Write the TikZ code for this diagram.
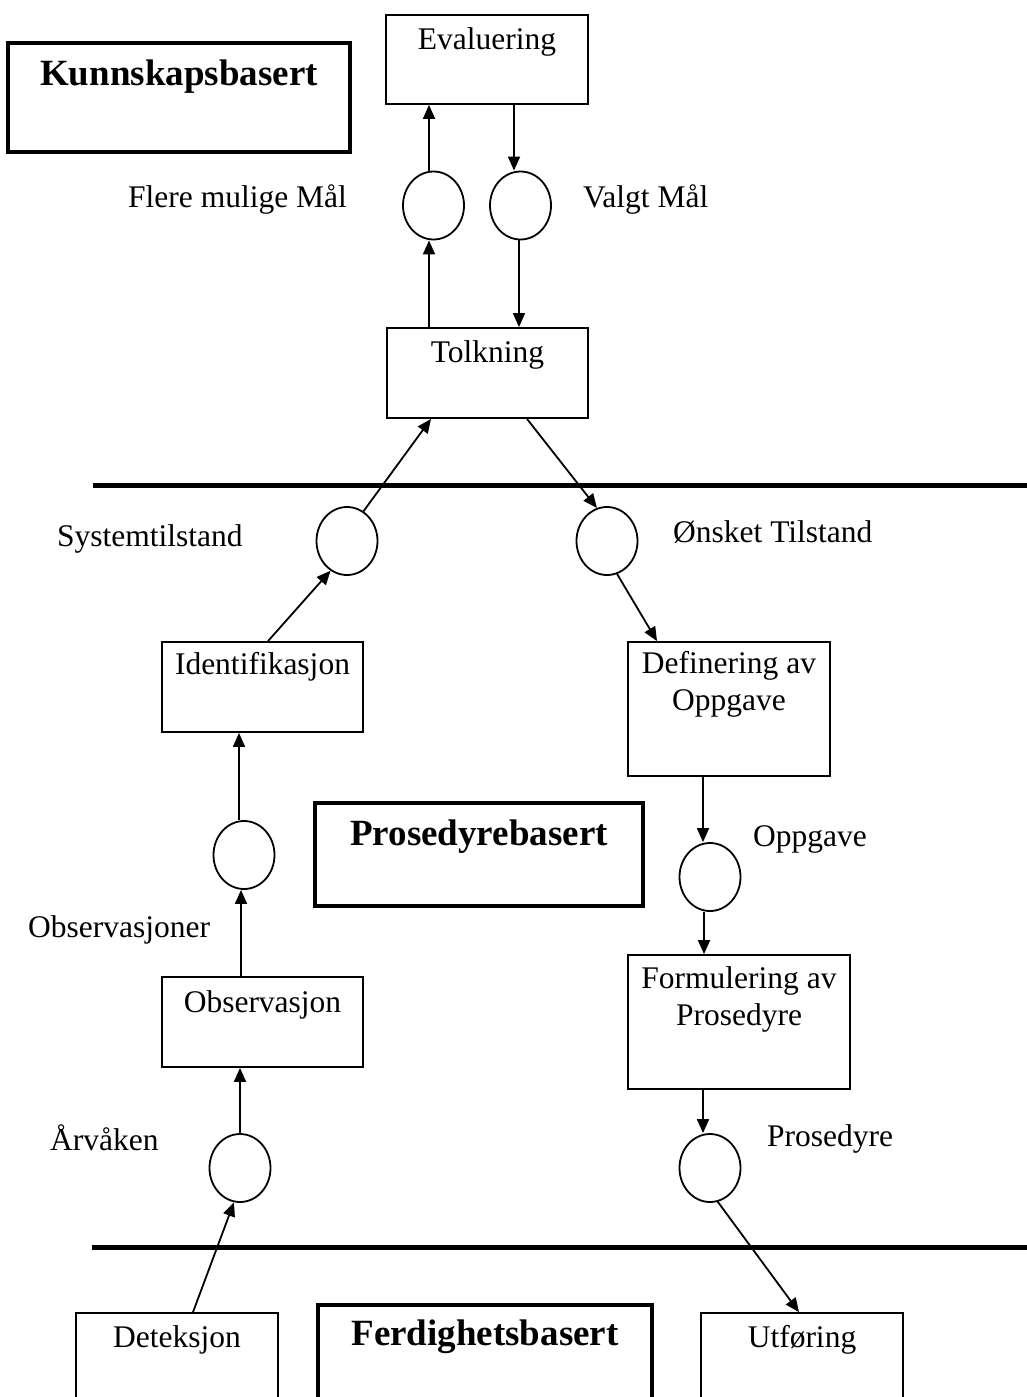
\documentclass[tikz,border=0pt]{standalone}
\usepackage{fontspec}
\setmainfont{Liberation Serif}
\usetikzlibrary{arrows.meta,shapes.geometric}

\tikzset{
  box/.style={draw, line width=1.8pt, rectangle, inner sep=0pt},
  levelbox/.style={draw, line width=4.5pt, rectangle, inner sep=0pt},
  state/.style={draw, line width=1.8pt, ellipse, inner sep=0pt,
                minimum width=61pt, minimum height=68pt},
  arr/.style={line width=1.8pt, -{Triangle[length=14pt,width=12pt]}},
  divider/.style={line width=5pt},
  lbl/.style={anchor=base west, inner sep=0pt},
  boxtext/.style={anchor=base, inner sep=0pt, align=center},
  leveltext/.style={anchor=base, inner sep=0pt, font=\fontsize{37}{44}\selectfont\bfseries}
}

\begin{document}
\begin{tikzpicture}[x=1pt, y=-1pt, font=\fontsize{31.5}{37}\selectfont]
\useasboundingbox (0,0) rectangle (1027,1397);

% level frames
\node[levelbox, minimum width=342pt, minimum height=109pt] (kunn) at (179,97.5) {};
\node[leveltext] (kunnt) at (179,85) {Kunnskapsbasert};
\node[levelbox, minimum width=328pt, minimum height=103pt] (pros) at (479,854.5) {};
\node[leveltext] (prost) at (479,845) {Prosedyrebasert};
\node[levelbox, minimum width=334pt, minimum height=94pt] (ferd) at (485,1352) {};
\node[leveltext] (ferdt) at (485,1345) {Ferdighetsbasert};

% level dividers
\coordinate (d1a) at (93,485);  \coordinate (d1b) at (1030,485);
\coordinate (d2a) at (92,1247); \coordinate (d2b) at (1030,1247);
\draw[divider] (d1a) -- (d1b);
\draw[divider] (d2a) -- (d2b);

% processing boxes
\node[box, minimum width=202pt, minimum height=89pt]  (eval)  at (487,59.5) {};
\node[boxtext] (evalt) at (487,50) {Evaluering};
\node[box, minimum width=201pt, minimum height=90pt]  (tolk)  at (487.5,373) {};
\node[boxtext] (tolkt) at (487.5,362) {Tolkning};
\node[box, minimum width=201pt, minimum height=90pt]  (ident) at (262.5,687) {};
\node[boxtext] (identt) at (262.5,674) {Identifikasjon};
\node[box, minimum width=201pt, minimum height=90pt]  (obs)   at (262.5,1022) {};
\node[boxtext] (obst) at (262.5,1012) {Observasjon};
\node[box, minimum width=202pt, minimum height=134pt] (def)   at (729,709) {};
\node[boxtext] (deft1) at (729,673) {Definering av};
\node[boxtext] (deft2) at (729,710) {Oppgave};
\node[box, minimum width=222pt, minimum height=134pt] (form)  at (739,1022) {};
\node[boxtext] (formt1) at (739,988) {Formulering av};
\node[boxtext] (formt2) at (739,1025) {Prosedyre};
\node[box, minimum width=202pt, minimum height=117pt] (det)   at (177,1371.5) {};
\node[boxtext] (dett) at (177,1347) {Deteksjon};
\node[box, minimum width=202pt, minimum height=117pt] (utf)   at (802,1371.5) {};
\node[boxtext] (utft) at (802,1347) {Utføring};

% states
\node[state] (c1) at (433.5,205.5) {};
\node[state] (c2) at (520.5,205.5) {};
\node[state] (c3) at (347,541) {};
\node[state] (c4) at (607,541) {};
\node[state] (c5) at (244,855) {};
\node[state] (c6) at (710,877) {};
\node[state] (c7) at (240,1168) {};
\node[state] (c8) at (710,1168) {};

% state labels
\node[lbl] (l1) at (128,207)  {Flere mulige Mål};
\node[lbl] (l2) at (583,207)  {Valgt Mål};
\node[lbl] (l3) at (57,546)   {Systemtilstand};
\node[lbl] (l4) at (673,542)  {Ønsket Tilstand};
\node[lbl] (l5) at (28,937)   {Observasjoner};
\node[lbl] (l6) at (753,846)  {Oppgave};
\node[lbl] (l7) at (50,1150)  {Årvåken};
\node[lbl] (l8) at (767,1146) {Prosedyre};

% top loop
\draw[arr] ([xshift=-4.5pt]c1.north) -- ([xshift=-4.5pt]c1.north |- eval.south);
\draw[arr] ([xshift=-6.5pt]c2.north |- eval.south) -- ([xshift=-6.5pt]c2.north);
\draw[arr] ([xshift=-4.5pt]c1.south |- tolk.north) -- ([xshift=-4.5pt]c1.south);
\draw[arr] ([xshift=-1.5pt]c2.south) -- ([xshift=-1.5pt]c2.south |- tolk.north);

% diagonal links around the upper divider
\draw[arr] (c3.61) -- ([xshift=-56.5pt]tolk.south);
\draw[arr] ([xshift=39.5pt]tolk.south) -- (c4.107);
\draw[arr] ([xshift=5.5pt]ident.north) -- (c3.241);
\draw[arr] (c4.-73) -- ([xshift=-72pt]def.north);

% left column
\draw[arr] ([xshift=-5pt]c5.north) -- ([xshift=-5pt]c5.north |- ident.south);
\draw[arr] ([xshift=-3pt]c5.south |- obs.north) -- ([xshift=-3pt]c5.south);
\draw[arr] (c7.north) -- (c7.north |- obs.south);

% right column
\draw[arr] ([xshift=-7pt]c6.north |- def.south) -- ([xshift=-7pt]c6.north);
\draw[arr] ([xshift=-6pt]c6.south) -- ([xshift=-6pt]c6.south |- form.north);
\draw[arr] ([xshift=-7pt]c8.north |- form.south) -- ([xshift=-7pt]c8.north);

% links across the lower divider
\draw[arr] ([xshift=16pt]det.north) -- (c7.-100);
\draw[arr] (c8.-77) -- ([xshift=-3pt]utf.north);
\end{tikzpicture}
\end{document}
